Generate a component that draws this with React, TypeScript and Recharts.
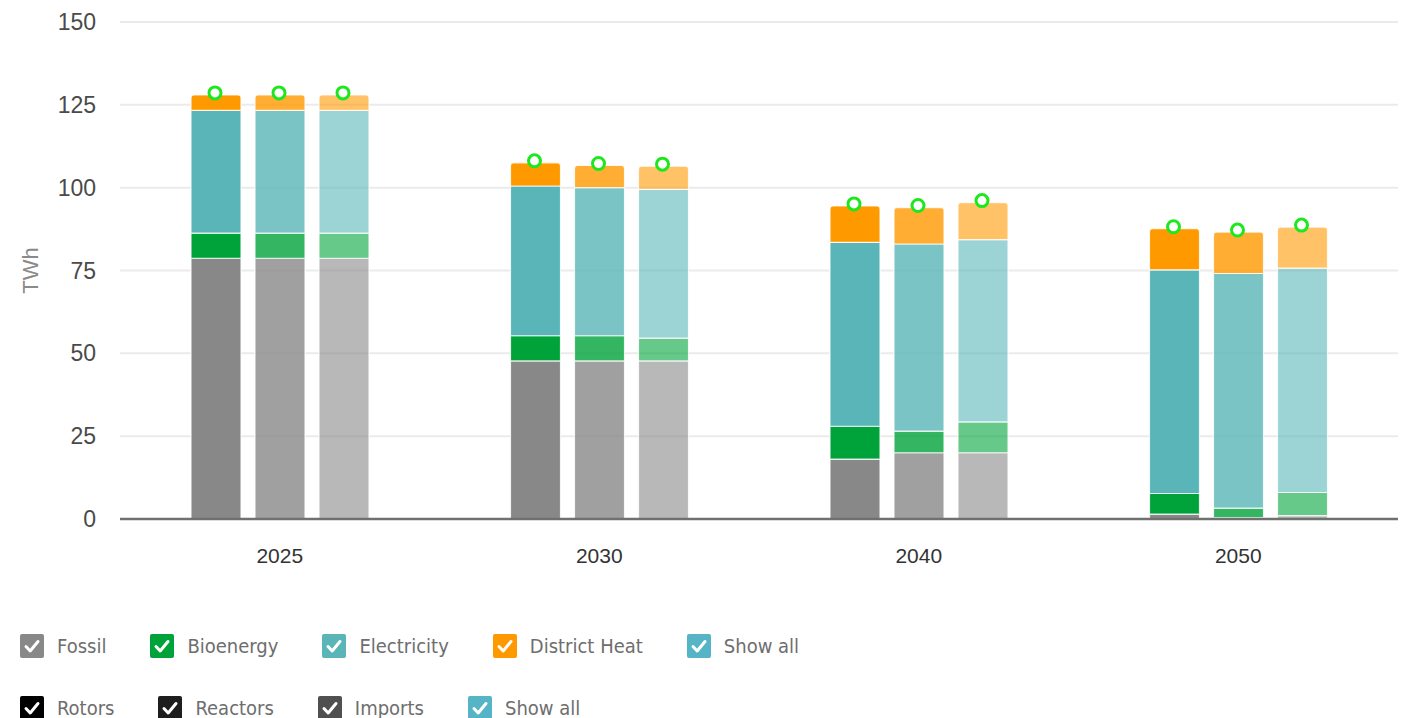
import React from 'react';
import { BarChart, Bar, XAxis, YAxis, CartesianGrid, LabelList } from 'recharts';

// Categories and axis ticks
const years = ['2025', '2030', '2040', '2050'];
const yTicks = [0, 25, 50, 75, 100, 125, 150];

// Final energy per carrier, TWh — rows are the three scenarios, columns the years
const fossil = [
  [78.7, 47.7, 18.1, 1.5],
  [78.7, 47.7, 20.0, 0.4],
  [78.7, 47.7, 20.0, 1.0],
];
const bioenergy = [
  [7.6, 7.6, 9.9, 6.2],
  [7.6, 7.6, 6.5, 2.9],
  [7.6, 6.9, 9.3, 7.0],
];
const electricity = [
  [37.0, 45.2, 55.5, 67.5],
  [37.0, 44.7, 56.5, 70.8],
  [37.0, 44.9, 55.0, 67.7],
];
const districtHeat = [
  [4.7, 7.0, 11.0, 12.4],
  [4.7, 6.7, 11.0, 12.5],
  [4.7, 7.0, 11.2, 12.4],
];

const carrierKeys = ['fossil', 'bioenergy', 'electricity', 'districtHeat'];
const carrierNames = ['Fossil', 'Bioenergy', 'Electricity', 'District Heat'];
const carrierValues = [fossil, bioenergy, electricity, districtHeat];
const carrierColors = ['#888888', '#00a33a', '#5ab5b8', '#ff9900'];
const scenarioOpacity = [1, 0.8, 0.6];

// Legend rows
const legendRow1 = [...carrierNames, 'Show all'];
const legendRow1Colors = [...carrierColors, '#55b4c6'];
const legendRow2 = ['Rotors', 'Reactors', 'Imports', 'Show all'];
const legendRow2Colors = ['#000000', '#1e1e1e', '#505050', '#55b4c6'];

const data = years.map((year, yi) => {
  const row: Record<string, string | number> = { year };
  scenarioOpacity.forEach((_, s) => {
    carrierKeys.forEach((key, ci) => {
      row[`${key}_${s}`] = carrierValues[ci][s][yi];
    });
  });
  return row;
});

// Ring marking the top of each stacked column
const TotalMarker = (props: any) => {
  const vb = props.viewBox || {};
  const x = props.x ?? vb.x;
  const y = props.y ?? vb.y;
  const width = props.width ?? vb.width;
  if (x == null || y == null || width == null) return null;
  return (
    <circle
      cx={x + width / 2 - 1}
      cy={y - 2}
      r={6}
      fill="#ffffff"
      stroke="#1de81d"
      strokeWidth={3}
    />
  );
};

const CheckBox = ({ color }: { color: string }) => (
  <svg width={24} height={24} style={{ flex: 'none' }}>
    <rect x={0} y={0} width={24} height={24} rx={2} fill={color} />
    <path
      d="M6 12.5 L10.2 17 L18 7.5"
      fill="none"
      stroke="#ffffff"
      strokeWidth={3}
      strokeLinecap="round"
      strokeLinejoin="round"
    />
  </svg>
);

const LegendRow = ({ names, colors, top }: { names: string[]; colors: string[]; top: number }) => (
  <div
    style={{
      position: 'absolute',
      left: 20,
      top,
      display: 'flex',
      alignItems: 'center',
      gap: 44,
    }}
  >
    {names.map((name, i) => (
      <div key={name + i} style={{ display: 'flex', alignItems: 'center', gap: 13 }}>
        <CheckBox color={colors[i]} />
        <span
          style={{
            fontFamily: '"DejaVu Sans Condensed", "Liberation Sans Narrow", sans-serif',
            fontSize: 20,
            color: '#6e6e6e',
            whiteSpace: 'nowrap',
            lineHeight: '24px',
          }}
        >
          {name}
        </span>
      </div>
    ))}
  </div>
);

export default function App() {
  return (
    <div
      style={{
        position: 'absolute',
        left: 0,
        top: 0,
        width: 1406,
        height: 718,
        background: '#ffffff',
        overflow: 'hidden',
        fontFamily: '"Liberation Sans", Arial, sans-serif',
      }}
    >
      <BarChart
        width={1406}
        height={590}
        data={data}
        margin={{ top: 22, right: 8, left: 0, bottom: 41 }}
        barSize={50}
        barGap={14}
      >
        <CartesianGrid vertical={false} stroke="#ebebeb" strokeWidth={2} />
        <XAxis
          dataKey="year"
          height={30}
          tickLine={false}
          tickSize={0}
          tickMargin={29}
          axisLine={{ stroke: '#707070', strokeWidth: 2.5 }}
          tick={{ fill: '#333333', fontSize: 21 }}
        />
        <YAxis
          width={120}
          domain={[0, 150]}
          ticks={yTicks}
          tickLine={false}
          tickSize={0}
          tickMargin={24}
          axisLine={false}
          tick={{ fill: '#4a4a4a', fontSize: 23 }}
          label={{
            value: 'TWh',
            angle: -90,
            position: 'center',
            dx: -30,
            fill: '#8a8a8a',
            fontSize: 22,
          }}
        />
        {scenarioOpacity.flatMap((opacity, s) =>
          carrierKeys.map((key, ci) => (
            <Bar
              key={`${key}_${s}`}
              dataKey={`${key}_${s}`}
              name={carrierNames[ci]}
              stackId={`scenario${s}`}
              fill={carrierColors[ci]}
              fillOpacity={opacity}
              stroke="#ffffff"
              strokeOpacity={0.8}
              strokeWidth={1.2}
              radius={ci === carrierKeys.length - 1 ? [3, 3, 0, 0] : 0}
              isAnimationActive={false}
            >
              {ci === carrierKeys.length - 1 && (
                <LabelList dataKey={`${key}_${s}`} content={TotalMarker} />
              )}
            </Bar>
          ))
        )}
      </BarChart>
      <LegendRow names={legendRow1} colors={legendRow1Colors} top={634} />
      <LegendRow names={legendRow2} colors={legendRow2Colors} top={696} />
    </div>
  );
}
